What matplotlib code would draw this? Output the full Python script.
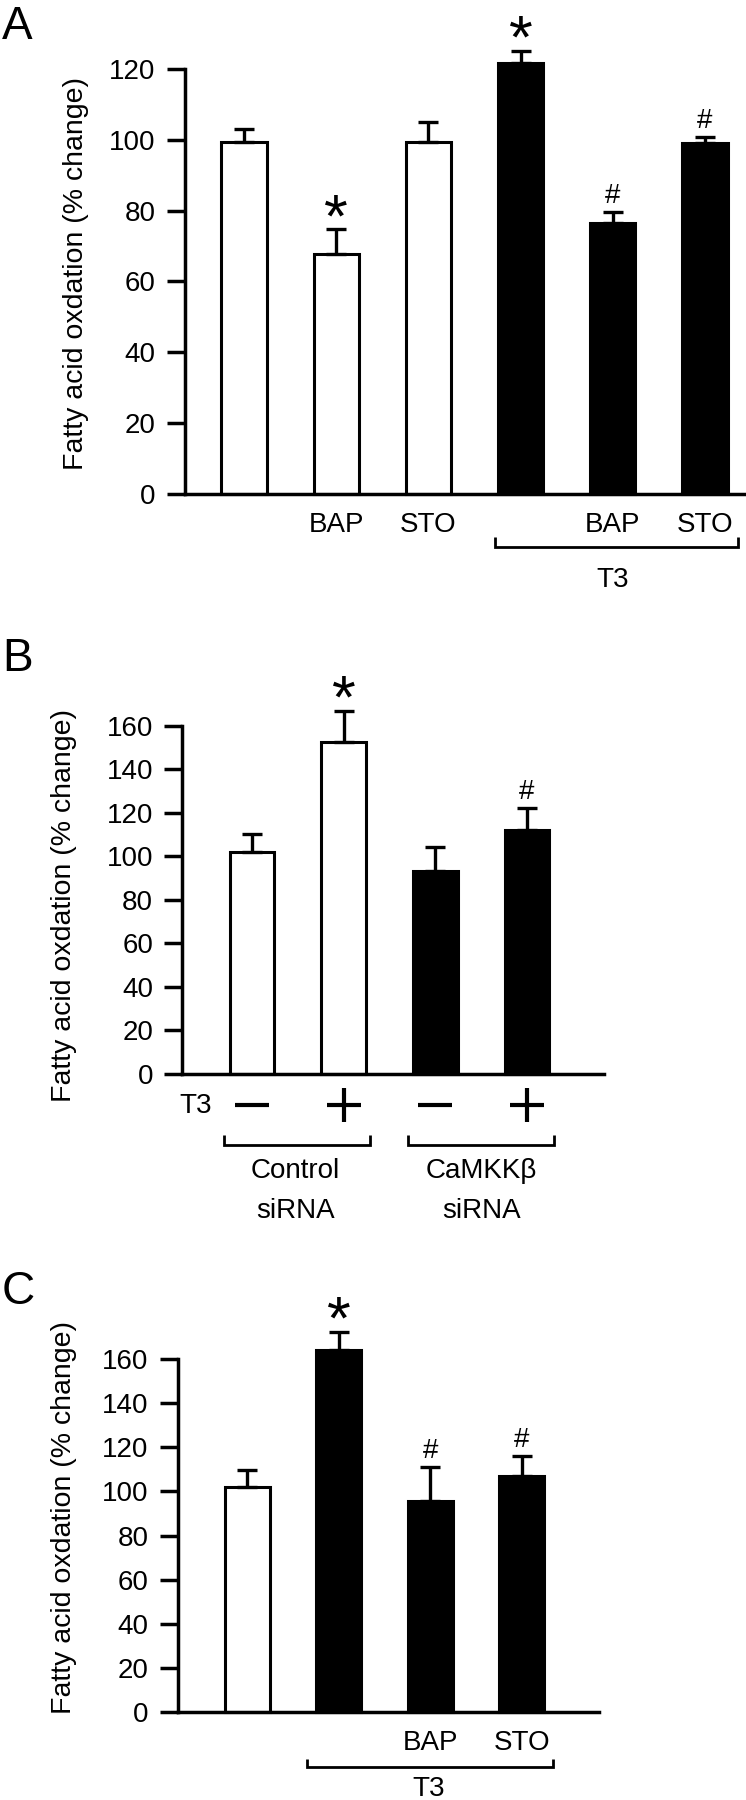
import numpy as np
import matplotlib.pyplot as plt

plt.rcParams['font.family'] = ['Liberation Sans', 'DejaVu Sans']
plt.rcParams['axes.linewidth'] = 2.5

# panel A
a_means = [99.5, 67.8, 99.4, 121.7, 76.4, 99.1]
a_err = [3.6, 7.0, 5.8, 3.6, 3.3, 1.7]
a_labels = ["", "BAP", "STO", "", "BAP", "STO"]
a_dark = [0, 0, 0, 1, 1, 1]
a_marks = ["", "*", "", "*", "#", "#"]
a_yticks = [0, 20, 40, 60, 80, 100, 120]

# panel B
b_means = [102.1, 152.4, 93.2, 112.0]
b_err = [8.0, 14.4, 10.9, 10.0]
b_t3 = ["_", "+", "_", "+"]
b_dark = [0, 0, 1, 1]
b_groups = [["Control", "siRNA"], ["CaMKK\u03b2", "siRNA"]]
b_marks = ["", "*", "", "#"]
b_yticks = [0, 20, 40, 60, 80, 100, 120, 140, 160]

# panel C
c_means = [102.0, 164.4, 95.5, 106.8]
c_err = [7.9, 8.1, 15.6, 9.1]
c_labels = ["", "", "BAP", "STO"]
c_dark = [0, 1, 1, 1]
c_marks = ["", "*", "#", "#"]
c_yticks = [0, 20, 40, 60, 80, 100, 120, 140, 160]

W, H = 746, 1800
fig = plt.figure(figsize=(W / 100, H / 100), dpi=100)
FS = 20


def panel(x0, x1, ytop, yzero, means, err, dark, xlim, ylim, yticks, width=0.49):
    ax = fig.add_axes([x0 / W, 1 - yzero / H, (x1 - x0) / W, (yzero - ytop) / H])
    x = np.arange(len(means))
    cols = ['black' if d else 'white' for d in dark]
    ax.bar(x, means, width=width, color=cols, edgecolor='black', linewidth=2.2,
           zorder=2, clip_on=False)
    eb = ax.errorbar(x, means, yerr=[np.zeros(len(err)), err], fmt='none',
                     ecolor='black', elinewidth=2.4, capsize=7.5, capthick=2.4, zorder=3)
    for art in list(eb.lines[1]) + list(eb.lines[2]):
        art.set_clip_on(False)
    ax.set_xlim(*xlim)
    ax.set_ylim(*ylim)
    ax.set_yticks(yticks)
    ax.spines['top'].set_visible(False)
    ax.spines['right'].set_visible(False)
    ax.tick_params(axis='y', direction='out', length=13, width=2.5, labelsize=FS, pad=8)
    ax.tick_params(axis='x', length=0, labelsize=FS, pad=13.5)
    ax.set_xticks(x)
    ax.set_xticklabels([""] * len(x))
    ax.hpx = yzero - ytop
    return ax


def marks(ax, means, err, syms):
    for i, (m, e, s) in enumerate(zip(means, err, syms)):
        if s == "*":
            ax.annotate("*", (i, m + e), xytext=(0, -5), textcoords='offset points',
                        ha='center', va='baseline', fontsize=44, annotation_clip=False)
        elif s == "#":
            ax.annotate("#", (i, m + e), xytext=(0, 6.5), textcoords='offset points',
                        ha='center', va='baseline', fontsize=FS, annotation_clip=False)


def below(ax, x, px, s, fs=FS):
    # text centred px pixels under the x axis
    ax.annotate(s, (x, 0), xycoords=ax.get_xaxis_transform(),
                xytext=(0, -(px + 3) * 0.72), textcoords='offset points',
                ha='center', va='center', fontsize=fs, annotation_clip=False)


def bracket(ax, x0, x1, top, bot):
    tr = ax.get_xaxis_transform()
    yt, yb = -top / ax.hpx, -bot / ax.hpx
    ax.plot([x0, x0, x1, x1], [yt, yb, yb, yt], transform=tr, color='black', lw=2,
            clip_on=False, solid_joinstyle='miter', solid_capstyle='butt')


# ---- A
axA = panel(184.6, 746, 69.3, 493.5, a_means, a_err, a_dark, (-0.644, 5.445), (0, 120), a_yticks)
axA.set_xticklabels(a_labels)
marks(axA, a_means, a_err, a_marks)
bracket(axA, 2.72, 5.36, 43.5, 53.2)
below(axA, 4.0, 83.8, "T3")

# ---- B
axB = panel(182.2, 604, 725.7, 1073.7, b_means, b_err, b_dark, (-0.761, 3.84), (0, 160), b_yticks)
marks(axB, b_means, b_err, b_marks)
below(axB, -0.62, 29.6, "T3")
trB = axB.get_xaxis_transform()
for i, s in enumerate(b_t3):
    axB.plot([i], [-31 / axB.hpx], marker=s, markersize=25, mew=3.0, color='black',
             transform=trB, clip_on=False)
bracket(axB, -0.31, 1.29, 61.3, 71.3)
bracket(axB, 1.70, 3.29, 61.3, 71.3)
for gx, (l1, l2) in zip([0.47, 2.5], b_groups):
    below(axB, gx, 94.6, l1)
    below(axB, gx, 134.3, l2)

# ---- C
axC = panel(177.5, 598.6, 1359.3, 1711.7, c_means, c_err, c_dark, (-0.764, 3.84), (0, 160), c_yticks)
axC.set_xticklabels(c_labels)
marks(axC, c_means, c_err, c_marks)
bracket(axC, 0.65, 3.34, 47.3, 55)
below(axC, 1.98, 74.5, "T3")

# y labels and panel letters
ylab = "Fatty acid oxdation (% change)"
for xc, yc in [(76, 274), (64, 905), (64, 1518)]:
    fig.text(xc / W, 1 - yc / H, ylab, rotation=90, ha='center', va='center', fontsize=20.5)
for s, yb in [("A", 39.3), ("B", 670.7), ("C", 1304)]:
    fig.text(2 / W, 1 - yb / H, s, ha='left', va='baseline', fontsize=33)

fig.savefig("out.png", dpi=100)
